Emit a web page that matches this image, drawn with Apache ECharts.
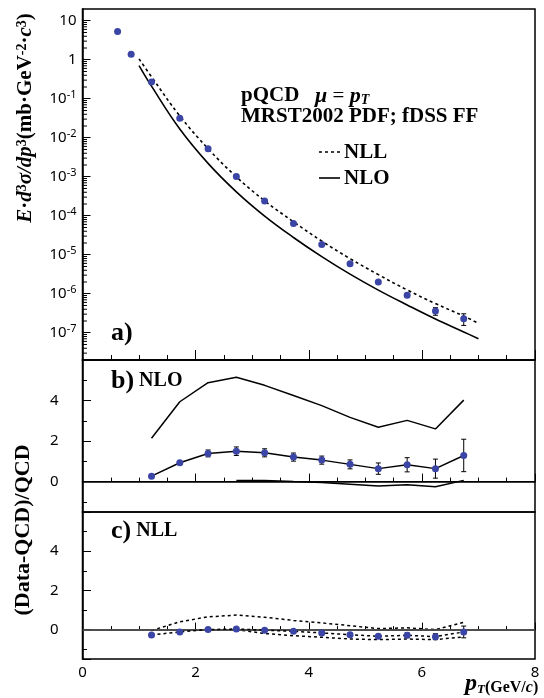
<!DOCTYPE html>
<html><head><meta charset="utf-8">
<script src="https://cdn.jsdelivr.net/npm/echarts@6/dist/echarts.min.js"></script>
<style>html,body{margin:0;padding:0;background:#fff}#c{width:544px;height:698px}</style>
</head><body><div id="c"></div>
<script>
// ---- data ----
const ptX = [0.62, 0.86, 1.22, 1.72, 2.22, 2.72, 3.22, 3.73, 4.23, 4.73, 5.23, 5.74, 6.24, 6.74];
const crossSection = [5.3, 1.39, 0.267, 0.0318, 5.2e-3, 1.02e-3, 2.37e-4, 6.35e-5, 1.84e-5, 5.9e-6, 2.0e-6, 9.2e-7, 3.6e-7, 2.3e-7];
const crossSectionRelErr = [0, 0, 0, 0, 0, 0, 0, 0, 0, 0, 0, 0.12, 0.22, 0.33];

const curveX = [1.0, 1.22, 1.72, 2.22, 2.72, 3.22, 3.73, 4.23, 4.73, 5.23, 5.74, 6.24, 6.74, 7.0];
const nllCurve = [1.05, 0.366, 0.0362, 5.25e-3, 9.93e-4, 2.42e-4, 7.0e-5, 2.24e-5, 7.96e-6, 3.09e-6, 1.25e-6, 5.6e-7, 2.67e-7, 1.74e-7];
const nloCurve = [0.71, 0.21, 0.0167, 2.2e-3, 4.1e-4, 9.8e-5, 2.77e-5, 8.95e-6, 3.18e-6, 1.24e-6, 5.15e-7, 2.25e-7, 1.05e-7, 7.0e-8];

const ratioX = [1.22, 1.72, 2.22, 2.72, 3.22, 3.73, 4.23, 4.73, 5.23, 5.74, 6.24, 6.74];
const ratioNLO = [0.27, 0.93, 1.39, 1.50, 1.42, 1.21, 1.06, 0.85, 0.64, 0.83, 0.64, 1.29];
const ratioNLOErr = [0.05, 0.08, 0.17, 0.21, 0.20, 0.20, 0.20, 0.22, 0.28, 0.35, 0.47, 0.80];
const nloUpper = [2.14, 3.94, 4.88, 5.15, 4.75, 4.25, 3.75, 3.17, 2.68, 3.02, 2.60, 4.02];
const lowerX = [2.72, 3.22, 3.73, 4.23, 4.73, 5.23, 5.74, 6.24, 6.74];
const nloLower = [0.05, 0.06, 0.0, -0.05, -0.13, -0.22, -0.16, -0.25, 0.06];

const ratioNLL = [-0.27, -0.12, 0.0, 0.03, -0.03, -0.09, -0.17, -0.26, -0.34, -0.29, -0.36, -0.12];
const ratioNLLErr = [0.04, 0.04, 0.05, 0.06, 0.06, 0.07, 0.08, 0.09, 0.10, 0.12, 0.15, 0.30];
const nllUpper = [-0.05, 0.40, 0.65, 0.74, 0.63, 0.47, 0.34, 0.20, 0.05, 0.09, 0.0, 0.37];
const nllLower = [0.0, -0.20, -0.31, -0.39, -0.48, -0.51, -0.48, -0.51, -0.37];

// ---- helpers ----
const zip = (xs, ys) => xs.map((x, i) => [x, ys[i]]);
const BLUE = '#3a45a5';
const SERIF = '"Liberation Serif", "Times New Roman", serif';
const SANS = '"Noto Sans", "DejaVu Sans", sans-serif';

function errRender(params, api) {
  const x = api.value(0), lo = api.value(1), hi = api.value(2);
  if (hi === lo) return null;
  const p1 = api.coord([x, hi]), p2 = api.coord([x, lo]);
  const w = 2.5, st = {stroke: '#000', lineWidth: 1};
  return {type: 'group', children: [
    {type: 'line', shape: {x1: p1[0], y1: p1[1], x2: p2[0], y2: p2[1]}, style: st},
    {type: 'line', shape: {x1: p1[0] - w, y1: p1[1], x2: p1[0] + w, y2: p1[1]}, style: st},
    {type: 'line', shape: {x1: p2[0] - w, y1: p2[1], x2: p2[0] + w, y2: p2[1]}, style: st}
  ]};
}
// log minor ticks on the left axis of panel a
const logMinor = [];
for (let n = -8; n <= 1; n++) for (let k = 2; k <= 9; k++) {
  const v = k * Math.pow(10, n);
  if (v > 2e-8 && v < 20) logMinor.push([0, v]);
}
function minorRender(params, api) {
  const p = api.coord([api.value(0), api.value(1)]);
  return {type: 'line', shape: {x1: p[0], y1: p[1], x2: p[0] + 4.5, y2: p[1]}, style: {stroke: '#000', lineWidth: 1}};
}

const L = 82.5, R = 9;
const grids = [
  {left: L, right: R, top: 9, height: 351},
  {left: L, right: R, top: 360, height: 152},
  {left: L, right: R, top: 512, height: 147}
].map(g => Object.assign(g, {show: true, borderColor: '#000', borderWidth: 1.5, backgroundColor: 'transparent'}));

function xAx(i, labels, major) {
  return {
    type: 'value', gridIndex: i, min: 0, max: 8, interval: 2,
    axisLine: {show: true, lineStyle: {color: '#000', width: 1.5}},
    axisTick: {show: true, inside: true, length: major, lineStyle: {color: '#000', width: 1}},
    minorTick: {show: true, splitNumber: 4, length: major / 2, lineStyle: {color: '#000', width: 1}},
    splitLine: {show: false},
    axisLabel: {show: labels, fontSize: 15, fontFamily: SANS, color: '#000', margin: 6}
  };
}
function yRatio(i) {
  return {
    type: 'value', gridIndex: i, min: -1.5, max: 6, splitNumber: 4,
    axisLine: {show: true, lineStyle: {color: '#000', width: 1.5}},
    axisTick: {show: true, inside: true, length: 8.5, lineStyle: {color: '#000', width: 1}},
    minorTick: {show: true, splitNumber: 2, length: 4.5, lineStyle: {color: '#000', width: 1}},
    splitLine: {show: false},
    axisLabel: {show: true, fontSize: 15, fontFamily: SANS, color: '#000', margin: 24,
      showMinLabel: false, showMaxLabel: false}
  };
}
const bold = (size, extra) => Object.assign({fontFamily: SERIF, fontWeight: 'bold', fontSize: size, fill: '#000'}, extra || {});

const chart = echarts.init(document.getElementById('c'), null, {renderer: 'canvas'});
const option = {
  animation: false,
  backgroundColor: '#fff',
  grid: grids,
  xAxis: [xAx(0, false, 10), xAx(1, false, 8), xAx(2, true, 7)],
  yAxis: [
    {
      type: 'log', logBase: 10, gridIndex: 0, min: 2e-8, max: 20,
      axisLine: {show: true, lineStyle: {color: '#000', width: 1.5}},
      axisTick: {show: true, inside: true, length: 8, lineStyle: {color: '#000', width: 1}},
      minorTick: {show: false},
      splitLine: {show: false},
      axisLabel: {
        show: true, fontSize: 15, fontFamily: SANS, color: '#000', margin: 6,
        showMinLabel: false, showMaxLabel: false,
        formatter: v => {
          const n = Math.round(Math.log10(v));
          if (Math.abs(Math.log10(v) - n) > 0.01) return '';
          if (n === 1) return '10';
          if (n === 0) return '1';
          return '10{sup|' + n + '}';
        },
        rich: {sup: {fontSize: 11, fontFamily: SANS, color: '#000', verticalAlign: 'top', padding: [0, 0, 8, 0]}}
      }
    },
    yRatio(1), yRatio(2)
  ],
  series: [
    // panel a
    {type: 'custom', name: 'minor', xAxisIndex: 0, yAxisIndex: 0, renderItem: minorRender, data: logMinor, silent: true, clip: false},
    {type: 'line', name: 'NLL', xAxisIndex: 0, yAxisIndex: 0, data: zip(curveX, nllCurve), smooth: 0.4, symbol: 'none',
      lineStyle: {color: '#000', width: 1.6, type: [3, 3]}},
    {type: 'line', name: 'NLO', xAxisIndex: 0, yAxisIndex: 0, data: zip(curveX, nloCurve), smooth: 0.4, symbol: 'none',
      lineStyle: {color: '#000', width: 1.6}},
    {type: 'custom', xAxisIndex: 0, yAxisIndex: 0, renderItem: errRender, encode: {x: 0, y: [1, 2]}, z: 3,
      data: ptX.map((x, i) => [x, crossSection[i] * (1 - crossSectionRelErr[i]), crossSection[i] * (1 + crossSectionRelErr[i])])},
    {type: 'scatter', xAxisIndex: 0, yAxisIndex: 0, data: zip(ptX, crossSection), symbolSize: 7, itemStyle: {color: BLUE, opacity: 1}, z: 5},
    // panel b
    {type: 'line', xAxisIndex: 1, yAxisIndex: 1, data: zip(ratioX, nloUpper), symbol: 'none', lineStyle: {color: '#000', width: 1.5},
      markLine: {silent: true, symbol: 'none', label: {show: false}, data: [{yAxis: 0}], lineStyle: {color: '#000', width: 1, type: 'solid'}}},
    {type: 'line', xAxisIndex: 1, yAxisIndex: 1, data: zip(lowerX, nloLower), symbol: 'none', lineStyle: {color: '#000', width: 1.5}},
    {type: 'custom', xAxisIndex: 1, yAxisIndex: 1, renderItem: errRender, encode: {x: 0, y: [1, 2]},
      data: ratioX.map((x, i) => [x, ratioNLO[i] - ratioNLOErr[i], ratioNLO[i] + ratioNLOErr[i]])},
    {type: 'line', xAxisIndex: 1, yAxisIndex: 1, data: zip(ratioX, ratioNLO), symbol: 'circle', symbolSize: 7, showSymbol: true,
      lineStyle: {color: '#000', width: 1.5}, itemStyle: {color: BLUE, borderWidth: 0, opacity: 1}, z: 5},
    // panel c
    {type: 'line', xAxisIndex: 2, yAxisIndex: 2, data: zip(ratioX, nllUpper), symbol: 'none', lineStyle: {color: '#000', width: 1.5, type: [3, 3]},
      markLine: {silent: true, symbol: 'none', label: {show: false}, data: [{yAxis: 0}], lineStyle: {color: '#555', width: 1.5, type: 'solid'}}},
    {type: 'line', xAxisIndex: 2, yAxisIndex: 2, data: zip(lowerX, nllLower), symbol: 'none', lineStyle: {color: '#000', width: 1.5, type: [3, 3]}},
    {type: 'custom', xAxisIndex: 2, yAxisIndex: 2, renderItem: errRender, encode: {x: 0, y: [1, 2]},
      data: ratioX.map((x, i) => [x, ratioNLL[i] - ratioNLLErr[i], ratioNLL[i] + ratioNLLErr[i]])},
    {type: 'line', xAxisIndex: 2, yAxisIndex: 2, data: zip(ratioX, ratioNLL), symbol: 'circle', symbolSize: 7, showSymbol: true,
      lineStyle: {color: '#000', width: 1.5, type: [3, 3]}, itemStyle: {color: BLUE, borderWidth: 0, opacity: 1}, z: 5}
  ],
  graphic: [
    // legend samples
    {type: 'line', shape: {x1: 319, y1: 152, x2: 340, y2: 152}, style: {stroke: '#000', lineWidth: 1.6, lineDash: [3, 3]}},
    {type: 'line', shape: {x1: 319, y1: 178, x2: 340, y2: 178}, style: {stroke: '#000', lineWidth: 1.6}},
    {type: 'text', x: 344, y: 153, style: Object.assign({text: 'NLL', align: 'left', verticalAlign: 'middle'}, bold(21))},
    {type: 'text', x: 344, y: 179, style: Object.assign({text: 'NLO', align: 'left', verticalAlign: 'middle'}, bold(21))},
    {type: 'text', x: 241, y: 96, style: {
      text: '{b|pQCD}{n|   }{i|μ}{n| = }{i|p}{sub|T}', align: 'left', verticalAlign: 'middle',
      rich: {
        b: bold(21),
        n: {fontFamily: SERIF, fontSize: 21, fill: '#000'},
        i: bold(22, {fontStyle: 'italic'}),
        sub: bold(14, {fontStyle: 'italic', verticalAlign: 'bottom', padding: [6, 0, 0, 0]})
      }}},
    {type: 'text', x: 241, y: 117, style: Object.assign({text: 'MRST2002 PDF; fDSS FF', align: 'left', verticalAlign: 'middle'}, bold(21))},
    {type: 'text', x: 111, y: 333, style: Object.assign({text: 'a)', align: 'left', verticalAlign: 'middle'}, bold(26))},
    {type: 'text', x: 111, y: 381, style: {text: '{a|b)}{b| NLO}', align: 'left', verticalAlign: 'middle',
      rich: {a: bold(26), b: bold(20)}}},
    {type: 'text', x: 111, y: 531, style: {text: '{a|c)}{b| NLL}', align: 'left', verticalAlign: 'middle',
      rich: {a: bold(26), b: bold(20)}}},
    {type: 'text', x: 26, y: 118, rotation: Math.PI / 2, style: {
      text: '{i|E}{b|·}{i|d}{sup|3}{i|σ/dp}{sup|3}{b|(mb·GeV}{sup|-2}{b|·}{i|c}{sup|3}{b|)}',
      align: 'center', verticalAlign: 'middle',
      rich: {
        b: bold(21),
        i: bold(21, {fontStyle: 'italic'}),
        sup: bold(14, {verticalAlign: 'top', padding: [0, 0, 6, 0]})
      }}},
    {type: 'text', x: 23, y: 530, rotation: Math.PI / 2, style: Object.assign({
      text: '(Data-QCD)/QCD', align: 'center', verticalAlign: 'middle'}, bold(22))},
    {type: 'text', x: 465, y: 684, style: {
      text: '{p|p}{t|T}{g|(GeV/}{gi|c}{g|)}', align: 'left', verticalAlign: 'middle',
      rich: {
        p: bold(24, {fontStyle: 'italic'}),
        t: bold(13, {fontStyle: 'italic', verticalAlign: 'bottom'}),
        g: bold(16, {verticalAlign: 'bottom'}),
        gi: bold(16, {fontStyle: 'italic', verticalAlign: 'bottom'})
      }}}
  ]
};
chart.setOption(option);
</script>
</body></html>
